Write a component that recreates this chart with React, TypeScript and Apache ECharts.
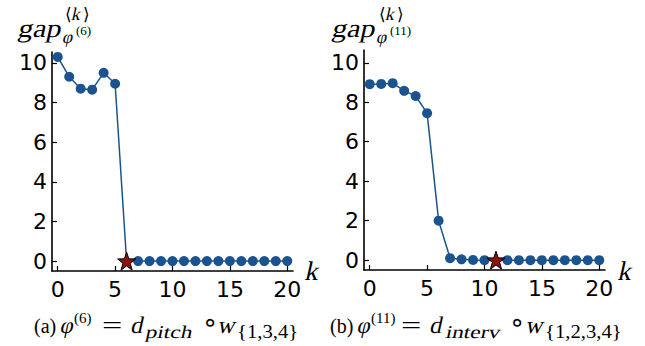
import React, { useEffect, useRef } from "react";
import * as echarts from "echarts";

// ---- data ----
const kValues = [0, 1, 2, 3, 4, 5, 6, 7, 8, 9, 10, 11, 12, 13, 14, 15, 16, 17, 18, 19, 20];
const gapA = [10.3, 9.3, 8.7, 8.65, 9.5, 8.95, 0, 0, 0, 0, 0, 0, 0, 0, 0, 0, 0, 0, 0, 0, 0];
const gapB = [8.92, 8.93, 8.97, 8.58, 8.32, 7.45, 2.0, 0.1, 0.04, 0.01, 0, 0, 0, 0, 0, 0, 0, 0, 0, 0, 0];
const starA = 6;
const starB = 11;
const xTicks = [0, 5, 10, 15, 20];
const yTicks = [0, 2, 4, 6, 8, 10];

const BLUE = "#1b538f";
const STAR_RED = "#8c1212";
const STAR =
  "path://M0,-10 L2.35,-3.24 L9.51,-3.09 L3.8,1.24 L5.88,8.09 L0,4 L-5.88,8.09 L-3.8,1.24 L-9.51,-3.09 L-2.35,-3.24 Z";

const SERIF = "Liberation Serif, serif";
const SANS = "DejaVu Sans, sans-serif";

function txt(text: string, x: number, baseline: number, size: number, family: string, italic = false, sx = 1) {
  const el: any = {
    type: "text",
    x,
    y: baseline - 0.34 * size,
    scaleX: sx,
    silent: true,
    style: {
      text,
      fontSize: size,
      fontFamily: family,
      fontStyle: "normal",
      fill: "#000",
      align: "left",
      verticalAlign: "middle",
    },
  };
  if (italic) el.skewX = -0.22;
  return el;
}

function lineData(vals: number[], star: number) {
  return vals.map((v, i) => (i === star ? { value: [kValues[i], v], symbol: "none" } : [kValues[i], v]));
}

export default function App() {
  const ref = useRef<HTMLDivElement>(null);
  useEffect(() => {
    if (!ref.current) return;
    const chart = echarts.init(ref.current, undefined, { renderer: "svg" });
    const xAxisCommon = (gi: number) => ({
      type: "value",
      gridIndex: gi,
      min: -0.5,
      max: 20.5,
      axisLine: { show: true, onZero: false, lineStyle: { color: "#000", width: 1.6 } },
      axisTick: { show: true, inside: true, length: 5, customValues: xTicks, lineStyle: { color: "#000", width: 1.2 } },
      axisLabel: { show: true, customValues: xTicks, fontFamily: SANS, fontSize: 22, color: "#000", margin: 7 },
      splitLine: { show: false },
    });
    const yAxisCommon = (gi: number, max: number) => ({
      type: "value",
      gridIndex: gi,
      min: -0.5,
      max,
      axisLine: { show: true, onZero: false, lineStyle: { color: "#000", width: 1.6 } },
      axisTick: { show: true, inside: true, length: 5, customValues: yTicks, lineStyle: { color: "#000", width: 1.2 } },
      axisLabel: { show: true, customValues: yTicks, fontFamily: SANS, fontSize: 22, color: "#000", margin: 5 },
      splitLine: { show: false },
    });
    const lineSeries = (gi: number, vals: number[], star: number) => ({
      type: "line",
      xAxisIndex: gi,
      yAxisIndex: gi,
      data: lineData(vals, star),
      symbol: "circle",
      symbolSize: 10,
      showSymbol: true,
      itemStyle: { color: BLUE, opacity: 1 },
      lineStyle: { color: BLUE, width: 1.5 },
      z: 2,
    });
    const starSeries = (gi: number, vals: number[], star: number) => ({
      type: "scatter",
      xAxisIndex: gi,
      yAxisIndex: gi,
      data: [[kValues[star], vals[star]]],
      symbol: STAR,
      symbolSize: 18,
      itemStyle: { color: STAR_RED, borderColor: "#000", borderWidth: 1, opacity: 1 },
      z: 5,
    });

    const B = 333;
    const graphics = [
      // y titles
      txt("gap", 19, 37, 26, SERIF, true, 1.15),
      txt("⟨", 65, 20, 17, SANS),
      txt("k", 72, 20, 18, SERIF, true),
      txt("⟩", 83, 20, 17, SANS),
      txt("φ", 63, 43, 18, SERIF, true),
      txt("(6)", 76, 35, 13, SERIF),
      txt("gap", 333, 37, 26, SERIF, true, 1.15),
      txt("⟨", 379, 20, 17, SANS),
      txt("k", 386, 20, 18, SERIF, true),
      txt("⟩", 397, 20, 17, SANS),
      txt("φ", 377, 43, 18, SERIF, true),
      txt("(11)", 390, 35, 13, SERIF),
      // x titles
      txt("k", 306, 280, 27, SERIF, true),
      txt("k", 619, 280, 27, SERIF, true),
      // caption a
      txt("(a)", 34, B, 20, SERIF),
      txt("φ", 61, B, 23, SERIF, true),
      txt("(6)", 74, B - 10, 15, SERIF),
      txt("=", 102, B, 24, SERIF, false, 1.5),
      txt("d", 132, B, 24, SERIF, true),
      txt("pitch", 146, B + 5, 18, SERIF, true, 1.3),
      txt("∘", 202, B - 2, 26, SANS),
      txt("w", 219, B, 24, SERIF, true),
      txt("{1,3,4}", 237, B + 5, 18, SERIF, false, 1.15),
      // caption b
      txt("(b)", 330, B, 20, SERIF),
      txt("φ", 358, B, 23, SERIF, true),
      txt("(11)", 371, B - 10, 15, SERIF),
      txt("=", 401, B, 24, SERIF, false, 1.5),
      txt("d", 431, B, 24, SERIF, true),
      txt("interv", 446, B + 5, 18, SERIF, true, 1.3),
      txt("∘", 509, B - 2, 26, SANS),
      txt("w", 527, B, 24, SERIF, true),
      txt("{1,2,3,4}", 545, B + 5, 18, SERIF, false, 1.15),
    ];

    chart.setOption({
      animation: false,
      backgroundColor: "#fff",
      grid: [
        { left: 52, top: 52, width: 241, height: 219, containLabel: false },
        { left: 364, top: 50, width: 241, height: 220, containLabel: false },
      ],
      xAxis: [xAxisCommon(0), xAxisCommon(1)],
      yAxis: [yAxisCommon(0, 10.55), yAxisCommon(1, 10.65)],
      series: [lineSeries(0, gapA, starA), starSeries(0, gapA, starA), lineSeries(1, gapB, starB), starSeries(1, gapB, starB)],
      graphic: graphics,
    });
    return () => chart.dispose();
  }, []);
  return <div ref={ref} style={{ position: "fixed", left: 0, top: 0, width: 645, height: 346, background: "#fff" }} />;
}
